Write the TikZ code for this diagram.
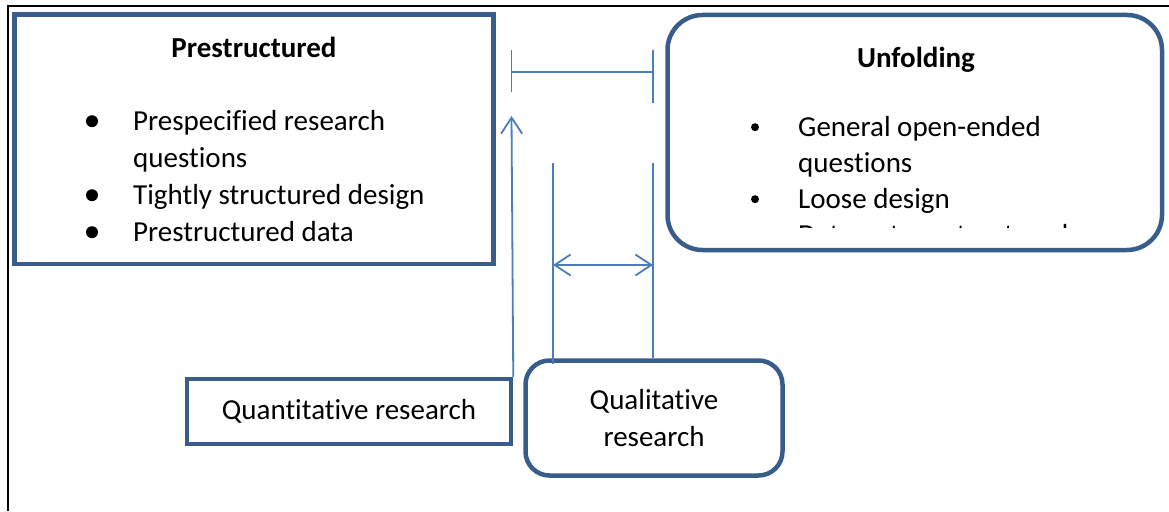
\documentclass[tikz,border=0pt]{standalone}
\usepackage{fontspec}
\setmainfont{Carlito}[Ligatures={NoCommon,NoContextual}]
\usetikzlibrary{calc,matrix,arrows.meta}
\definecolor{boxblue}{HTML}{385D8A}
\definecolor{lineblue}{HTML}{4A7EBB}
\tikzset{
sqbox/.style={draw=boxblue, line width=4.5pt, rectangle, inner sep=0pt},
rdbox/.style={sqbox, rounded corners=#1},
link/.style={draw=lineblue, line width=1.8pt},
>={Straight Barb[length=16pt,width=21pt]},
bodytext/.style={font=\fontsize{29}{36.5}\selectfont},
titletext/.style={font=\fontsize{29}{36.5}\selectfont\bfseries},
bullets/.style={
  matrix of nodes,
  inner sep=0pt,
  nodes={bodytext, inner sep=0pt, anchor=base west, text height=21pt, text depth=7pt},
  },
}

\begin{document}
\begin{tikzpicture}[x=1pt, y=-1pt]
    \useasboundingbox (0,0) rectangle (1169,511);
    \draw [line width=2pt] (8,511) -- (8,6) -- (1169,6);

    % the four boxes
    \node [sqbox, minimum width=479pt, minimum height=249.5pt] (pre) at (254,139.25) {};
    \node [rdbox=35pt, minimum width=494.5pt, minimum height=235pt] (unf) at (914.75,132.5) {};
    \node [sqbox, minimum width=324pt, minimum height=65pt, bodytext] (quant) at (349,411.5) {Quantitative research};
    \node [rdbox=24pt, minimum width=257pt, minimum height=115pt, bodytext, align=center] (qual) at (654,418) {Qualitative\\research};

    \node [titletext, anchor=base] (pre-title) at (254,57) {Prestructured};
    \node [titletext, anchor=base] (unf-title) at (916,67) {Unfolding};

    \matrix [bullets, row sep=9pt, anchor=north west] (pre-list) at (133,109)
    {
        Prespecified research \\
        questions \\
        Tightly structured design \\
        Prestructured data \\
    };
    \foreach \r in {1,3,4}
        \fill ($(pre-list-\r-1.base west)+(-41,-9)$) circle (6pt);

    \begin{scope}
        \clip (700,100) rectangle (1150,227.5);
        \matrix [bullets, row sep=8pt, anchor=north west] (unf-list) at (798,115)
        {
            General open-ended \\
            questions \\
            Loose design \\
            Data not prestructured \\
        };
        \foreach \r in {1,3,4}
            \fill ($(unf-list-\r-1.base west)+(-43,-9)$) circle (4pt);
    \end{scope}

    % span marker between the two top boxes
    \coordinate (gap-l) at (511.5,72);
    \coordinate (gap-r) at (653,72);
    \draw [link] (gap-l) -- (gap-r);
    \draw [link] ($(gap-l)+(0,-22)$) -- ($(gap-l)+(0,20)$);
    \draw [link] ($(gap-r)+(0,-22)$) -- ($(gap-r)+(0,31)$);

    \coordinate (pre-tip) at (511.5,116);
    \draw [link, ->] (quant.north east) -- (pre-tip);

    \coordinate (qa) at (553,163);
    \coordinate (qb) at (653,163);
    \coordinate (span) at (0,265);
    \draw [link] (qa) -- ($(qa |- qual.north)+(0,6)$);
    \draw [link] (qb) -- (qb |- qual.north);
    \draw [link, <->] (qa |- span) -- (qb |- span);

\end{tikzpicture}
\end{document}
